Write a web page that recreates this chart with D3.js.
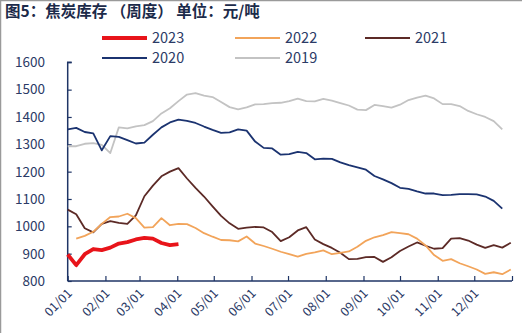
<!DOCTYPE html>
<html>
<head>
<meta charset="utf-8">
<script src="https://cdn.jsdelivr.net/npm/d3@7/dist/d3.min.js"></script>
<style>
  html, body { margin: 0; padding: 0; background: #fff; }
  svg { display: block; }
  text { font-family: "Noto Sans CJK SC", "Noto Sans", sans-serif; }
</style>
</head>
<body>
<script>
// ---- data ----
const title = "图5：焦炭库存 （周度） 单位：元/吨";
const monthTicks = ["01/01","02/01","03/01","04/01","05/01","06/01","07/01","08/01","09/01","10/01","11/01","12/01"];
const yTicks = [800, 900, 1000, 1100, 1200, 1300, 1400, 1500, 1600];
// weekly values; week i falls on Jan 1 + 7*i days (null = no data)
const s2023 = [897, 858, 898, 917, 913, 922, 937, 942, 952, 958, 955, 939, 931, 935];
const s2022 = [null, 955, 965, 980, 1009, 1034, 1036, 1046, 1030, 995, 997, 1030, 1004, 1009, 1008, 994, 975, 962, 950, 949, 945, 963, 937, 928, 918, 907, 898, 889, 899, 905, 912, 898, 903, 908, 925, 947, 960, 968, 979, 975, 971, 955, 930, 895, 874, 880, 865, 854, 842, 826, 832, 825, 842];
const s2021 = [1061, 1044, 993, 978, 1009, 1019, 1013, 1009, 1040, 1110, 1149, 1183, 1200, 1213, 1175, 1141, 1109, 1073, 1038, 1011, 991, 995, 998, 996, 979, 946, 960, 985, 997, 952, 935, 921, 903, 880, 881, 887, 888, 870, 887, 910, 926, 941, 929, 918, 920, 955, 957, 948, 933, 921, 931, 922, 940];
const s2020 = [1355, 1360, 1345, 1340, 1278, 1330, 1327, 1315, 1303, 1306, 1335, 1362, 1380, 1390, 1386, 1378, 1365, 1353, 1342, 1344, 1355, 1350, 1310, 1287, 1285, 1262, 1264, 1272, 1268, 1245, 1248, 1247, 1234, 1224, 1216, 1207, 1184, 1172, 1158, 1141, 1137, 1128, 1120, 1120, 1114, 1115, 1118, 1118, 1117, 1109, 1093, 1065];
const s2019 = [1293, 1293, 1302, 1304, 1298, 1268, 1362, 1358, 1366, 1370, 1385, 1413, 1432, 1458, 1482, 1487, 1478, 1473, 1455, 1436, 1428, 1435, 1446, 1447, 1451, 1452, 1458, 1467, 1458, 1457, 1466, 1460, 1451, 1442, 1427, 1425, 1444, 1440, 1434, 1445, 1462, 1471, 1478, 1468, 1447, 1447, 1440, 1422, 1410, 1400, 1385, 1355];
const seriesNames = ["2023", "2022", "2021", "2020", "2019"];
const seriesColors = ["#e8141a", "#f2a45a", "#5c2a26", "#1b3370", "#c3c3c3"];
const seriesWidths = [3.8, 1.8, 1.8, 1.8, 1.8];

// ---- chart ----
const W = 522, H = 333;
const svg = d3.select("body").append("svg").attr("width", W).attr("height", H);

const navy = "#1f3566";
const plot = { left: 67.7, right: 512, top: 62.3, bottom: 281 };

const yearStart = new Date(2023, 0, 1), yearEnd = new Date(2024, 0, 1);
const x = d3.scaleTime().domain([yearStart, yearEnd]).range([plot.left, plot.right]);
const y = d3.scaleLinear().domain([800, 1600]).range([plot.bottom, plot.top]);
const weekDate = i => d3.timeDay.offset(yearStart, 7 * i);

// border
svg.append("line").attr("x1", 0).attr("x2", W).attr("y1", 0.5).attr("y2", 0.5).attr("stroke", "#9a9a9a").attr("stroke-width", 1.5);
svg.append("line").attr("x1", 0.5).attr("x2", 0.5).attr("y1", 0).attr("y2", H).attr("stroke", "#9a9a9a").attr("stroke-width", 1.5);

// title
svg.append("text").attr("x", 5).attr("y", 17).attr("font-size", 15.5).attr("font-weight", "bold")
  .attr("fill", "#1c2b4a").text(title);

// y axis
const yAxis = d3.axisRight(y).tickValues(yTicks).tickSize(4).tickFormat("");
const gy = svg.append("g").attr("transform", `translate(${plot.left},0)`).call(yAxis);
gy.select(".domain").attr("stroke", navy).attr("stroke-width", 1.5).attr("d", `M4,${plot.top}H0V${plot.bottom}`);
gy.selectAll(".tick line").attr("stroke", navy).attr("stroke-width", 1.2);
svg.append("g").selectAll("text").data(yTicks).join("text")
  .attr("x", 45).attr("y", d => y(d)).attr("dy", "0.36em").attr("text-anchor", "end")
  .attr("font-size", 13.5).attr("fill", "#2b3a66").attr("font-family", "Liberation Sans, Arial, sans-serif")
  .text(d => d);

// x axis
const monthDates = monthTicks.map((_, i) => new Date(2023, i, 1));
const xAxis = d3.axisTop(x).tickValues(monthDates.concat([yearEnd])).tickSize(5).tickFormat("");
const gx = svg.append("g").attr("transform", `translate(0,${plot.bottom})`).call(xAxis);
gx.select(".domain").attr("stroke", navy).attr("stroke-width", 1.5).attr("d", `M${plot.left},0H${plot.right}`);
gx.selectAll(".tick line").attr("stroke", navy).attr("stroke-width", 1.2);
svg.append("g").selectAll("text").data(monthTicks).join("text")
  .attr("transform", (d, i) => `translate(${x(monthDates[i]) + 2},${plot.bottom + 10}) rotate(-45)`)
  .attr("text-anchor", "end").attr("dy", "0.35em")
  .attr("font-size", 12.5).attr("fill", "#2b3a66").attr("font-family", "Liberation Sans, Arial, sans-serif")
  .text(d => d);

// lines
const allSeries = [s2023, s2022, s2021, s2020, s2019];
const line = d3.line().defined(d => d.v != null).x(d => x(d.date)).y(d => y(d.v));
[4, 3, 2, 1, 0].forEach(k => {
  const pts = allSeries[k].map((v, i) => ({ date: weekDate(i), v }));
  svg.append("path").datum(pts).attr("d", line)
    .attr("fill", "none").attr("stroke", seriesColors[k]).attr("stroke-width", seriesWidths[k])
    .attr("stroke-linejoin", "round");
});

// legend
const legendPos = [
  { lx: 102, ly: 38 }, { lx: 235, ly: 38 }, { lx: 365, ly: 38 },
  { lx: 102, ly: 58 }, { lx: 235, ly: 58 }
];
seriesNames.forEach((name, k) => {
  const p = legendPos[k];
  svg.append("line").attr("x1", p.lx).attr("x2", p.lx + 45).attr("y1", p.ly).attr("y2", p.ly)
    .attr("stroke", seriesColors[k]).attr("stroke-width", k === 0 ? 4 : 2);
  svg.append("text").attr("x", p.lx + 50).attr("y", p.ly).attr("dy", "0.36em")
    .attr("font-size", 14.5).attr("fill", "#2b3a66").attr("font-family", "Lato, Noto Sans, sans-serif")
    .text(name);
});
</script>
</body>
</html>
